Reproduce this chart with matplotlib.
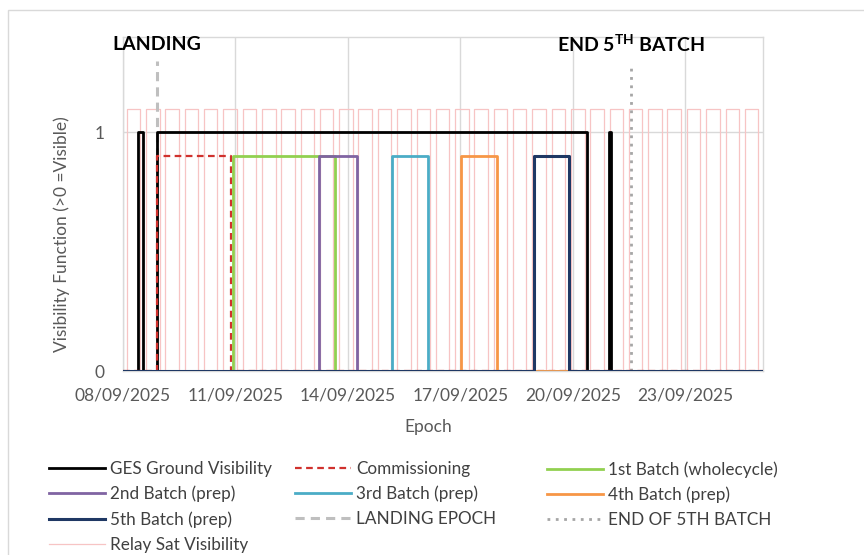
import matplotlib
matplotlib.use("Agg")
import matplotlib.pyplot as plt
from matplotlib.patches import Rectangle
import pandas as pd

plt.rcParams['font.family'] = ['Lato', 'DejaVu Sans']
plt.rcParams['mathtext.fontset'] = 'custom'
plt.rcParams['mathtext.bf'] = 'Lato:bold'
plt.rcParams['mathtext.rm'] = 'Lato'

# Time axis: days after 08/09/2025 00:00
t0 = pd.Timestamp('2025-09-08')
t_end = 17.07
tick_days = [0, 3, 6, 9, 12, 15]
tick_labels = ['08/09/2025', '11/09/2025', '14/09/2025', '17/09/2025', '20/09/2025', '23/09/2025']

# Visibility windows (start, end) in days
ges_windows = [(0.41, 0.53), (0.91, 12.37), (12.96, 13.02)]
comm_windows = [(0.91, 2.88)]
batch1_windows = [(2.93, 5.65)]
batch2_windows = [(5.23, 6.24)]
batch3_windows = [(7.17, 8.13)]
batch4_windows = [(9.01, 9.97)]
batch5_windows = [(10.96, 11.89)]

ges_level = 1.0
task_level = 0.9
relay_level = 1.1

landing_day = 0.91
landing_top = 1.3
end_batch5_day = 13.55
end_batch5_top = 1.27

relay_rise = [0.10, 0.62, 1.13, 1.65, 2.16, 2.68, 3.19, 3.71, 4.22, 4.74, 5.25,
              5.77, 6.28, 6.80, 7.31, 7.83, 8.34, 8.86, 9.37, 9.89, 10.40, 10.92,
              11.43, 11.95, 12.46, 12.98, 13.49, 14.01, 14.52, 15.04, 15.55, 16.07, 16.58]
relay_set = [0.46, 0.98, 1.49, 2.01, 2.52, 3.04, 3.55, 4.07, 4.58, 5.10, 5.61,
             6.13, 6.64, 7.16, 7.67, 8.19, 8.70, 9.22, 9.73, 10.25, 10.76, 11.28,
             11.79, 12.31, 12.82, 13.34, 13.85, 14.37, 14.88, 15.40, 15.91, 16.43, 16.94]


def to_dates(days):
    return t0 + pd.to_timedelta(days, unit='D')


def step_series(windows, level):
    """Square wave that sits at 0 and rises to `level` inside each window."""
    xs, ys = [0.0], [0.0]
    for a, b in windows:
        xs += [a, a, b, b]
        ys += [0.0, level, level, 0.0]
    xs.append(t_end)
    ys.append(0.0)
    return to_dates(xs), ys


fig = plt.figure(figsize=(8.64, 5.55), dpi=100)
ax = fig.add_axes([123 / 864, 184 / 555, 640 / 864, 334 / 555])

grid_c = '#D9D9D9'
text_c = '#595959'

# relay satellite passes behind everything else
rx, ry = step_series(list(zip(relay_rise, relay_set)), relay_level)
h_relay, = ax.plot(rx, ry, color='#F7C4C4', lw=0.9, zorder=1)

h_land, = ax.plot(to_dates([landing_day, landing_day]), [0, landing_top],
                  color='#BFBFBF', lw=2.2, ls=(0, (3, 2)), zorder=2)
h_end, = ax.plot(to_dates([end_batch5_day, end_batch5_day]), [0, end_batch5_top],
                 color='#A6A6A6', lw=2.0, ls=(0, (1, 2)), zorder=2)

gx, gy = step_series(ges_windows, ges_level)
h_ges, = ax.plot(gx, gy, color='black', lw=2.0, zorder=3)

cx, cy = step_series(comm_windows, task_level)
h_comm, = ax.plot(cx, cy, color='#D0312D', lw=1.6, ls=(0, (3, 2)), zorder=4)

batch_specs = [
    (batch1_windows, '#92D050'),
    (batch2_windows, '#8064A2'),
    (batch3_windows, '#4BACC6'),
    (batch4_windows, '#F79646'),
    (batch5_windows, '#1F3864'),
]
batch_handles = []
for i, (win, col) in enumerate(batch_specs):
    bx, by = step_series(win, task_level)
    h, = ax.plot(bx, by, color=col, lw=2.2 if i == 4 else 2.0, zorder=5 + i)
    batch_handles.append(h)

ax.set_xlim(to_dates([0])[0], to_dates([t_end])[0])
ax.set_ylim(0, 1.4)
ax.set_xticks(to_dates(tick_days))
ax.set_xticklabels(tick_labels)
ax.set_yticks([0, 1])
ax.set_yticklabels(['0', '1'])
ax.tick_params(axis='both', length=0, labelsize=12.5, colors=text_c)
ax.tick_params(axis='x', pad=12)
ax.tick_params(axis='y', pad=13)
ax.grid(True, color=grid_c, lw=1.0)
ax.set_axisbelow(True)
for s in ax.spines.values():
    s.set_color(grid_c)
    s.set_linewidth(1.0)

ax.set_xlabel('Epoch', fontsize=12.5, color=text_c)
ax.set_ylabel('Visibility Function (>0 =Visible)', fontsize=12.5, color=text_c)
ax.xaxis.set_label_coords(0.477, -0.145)
ax.yaxis.set_label_coords(-0.083, 0.41)

# event labels above the plot
ax.text(to_dates([landing_day])[0], 1.37, 'LANDING', fontsize=14, fontweight='bold',
        ha='center', va='center', color='black', zorder=10)
ax.text(to_dates([end_batch5_day])[0], 1.37, r'END 5$^{\mathbf{TH}}$ BATCH', fontsize=14,
        fontweight='bold', ha='center', va='center', color='black', zorder=10)

# chart frame
fig.add_artist(Rectangle((8 / 864, -0.1), 1.0, (555 - 10) / 555 + 0.1,
                         transform=fig.transFigure, fill=False, edgecolor=grid_c, lw=1.0))

# legend laid out in three columns, row order as in the series list
columns = [
    ([h_ges, batch_handles[1], batch_handles[4], h_relay],
     ['GES Ground Visibility', '2nd Batch (prep)', '5th Batch (prep)', 'Relay Sat Visibility']),
    ([h_comm, batch_handles[2], h_land],
     ['Commissioning', '3rd Batch (prep)', 'LANDING EPOCH']),
    ([batch_handles[0], batch_handles[3], h_end],
     ['1st Batch (wholecycle)', '4th Batch (prep)', 'END OF 5TH BATCH']),
]
col_x = [49 / 864, 295 / 864, 547 / 864]
for (hs, labels), x in zip(columns, col_x):
    fig.legend(hs, labels, loc='upper left', bbox_to_anchor=(x, 1 - 461 / 555),
               frameon=False, fontsize=12.3, handlelength=3.3, handletextpad=0.3,
               labelspacing=0.52, borderaxespad=0, borderpad=0, labelcolor='#404040')

fig.savefig('out.png', dpi=100)
